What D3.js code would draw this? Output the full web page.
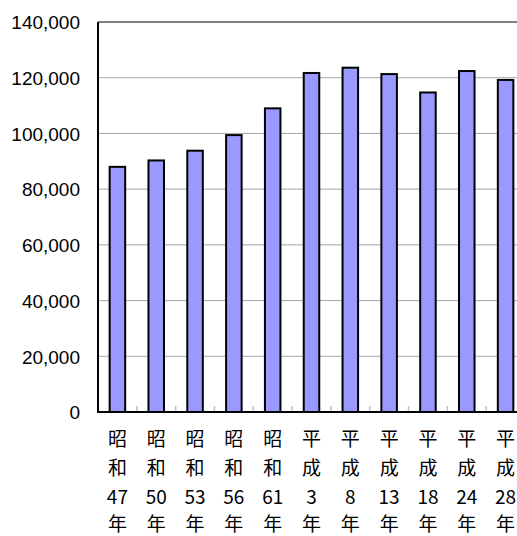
<!DOCTYPE html>
<html><head><meta charset="utf-8">
<script src="https://cdn.jsdelivr.net/npm/d3@7"></script>
<style>html,body{margin:0;padding:0;background:#fff;overflow:hidden}
.ylab{font-family:"Liberation Sans",Arial,sans-serif;font-size:19px;fill:#000}
.xlab{font-family:"Noto Sans CJK JP",sans-serif;font-size:19px;fill:#000}
</style>
</head><body><svg id="c" width="517" height="536"></svg>
<script>
const categories = ["昭和47年","昭和50年","昭和53年","昭和56年","昭和61年","平成3年","平成8年","平成13年","平成18年","平成24年","平成28年"];
const categoryLines = [["昭","和","47","年"],["昭","和","50","年"],["昭","和","53","年"],["昭","和","56","年"],["昭","和","61","年"],["平","成","3","年"],["平","成","8","年"],["平","成","13","年"],["平","成","18","年"],["平","成","24","年"],["平","成","28","年"]];
const values = [88000, 90300, 93800, 99400, 109000, 121700, 123600, 121300, 114700, 122400, 119200];
const yTicks = [0, 20000, 40000, 60000, 80000, 100000, 120000, 140000];

const svg = d3.select("#c");
const L = 98, R = 525, T = 22, B = 412;
const x = d3.scaleBand().domain(categories).range([L, R]).padding(0);
const y = d3.scaleLinear().domain([0, 140000]).range([B, T]);

svg.append("g").selectAll("line").data(yTicks.filter(v => v > 0 && v < 140000)).join("line")
  .attr("x1", L).attr("x2", R).attr("y1", d => y(d)).attr("y2", d => y(d))
  .attr("stroke", "#a6a6a6").attr("stroke-width", 1);
svg.append("line").attr("x1", L).attr("x2", R).attr("y1", y(140000)).attr("y2", y(140000))
  .attr("stroke", "#808080").attr("stroke-width", 2);

svg.append("g").selectAll("line").data(categories.slice(1)).join("line")
  .attr("x1", d => x(d)).attr("x2", d => x(d)).attr("y1", B).attr("y2", B - 6)
  .attr("stroke", "#c0c0c0").attr("stroke-width", 1.5);

const bw = x.bandwidth() * 0.40;
svg.append("g").selectAll("rect").data(values).join("rect")
  .attr("x", (d, i) => x(categories[i]) + x.bandwidth() / 2 - bw / 2)
  .attr("y", d => y(d))
  .attr("width", bw)
  .attr("height", d => B - y(d))
  .attr("fill", "#9999ff").attr("stroke", "#000").attr("stroke-width", 2);

svg.append("line").attr("x1", L).attr("x2", L).attr("y1", T).attr("y2", B)
  .attr("stroke", "#000").attr("stroke-width", 2);
svg.append("line").attr("x1", L - 1).attr("x2", R).attr("y1", B).attr("y2", B)
  .attr("stroke", "#000").attr("stroke-width", 2);

const yAxis = d3.axisLeft(y).tickValues(yTicks).tickSize(0).tickPadding(0).tickFormat(d3.format(","));
const ya = svg.append("g").attr("transform", `translate(80,0)`).call(yAxis)
  .attr("font-size", null).attr("font-family", null);
ya.select(".domain").remove();
ya.selectAll("text").attr("class", "ylab").attr("dy", "0.36em");

const rowY = [439, 468, 497, 524];
const xl = svg.append("g").selectAll("g").data(categories).join("g");
xl.each(function(c, i) {
  const g = d3.select(this);
  categoryLines[i].forEach((t, r) => {
    g.append("text").attr("class", "xlab").attr("x", x(c) + x.bandwidth() / 2).attr("y", rowY[r])
      .attr("dy", "0.36em").attr("text-anchor", "middle").text(t);
  });
});
</script></body></html>
